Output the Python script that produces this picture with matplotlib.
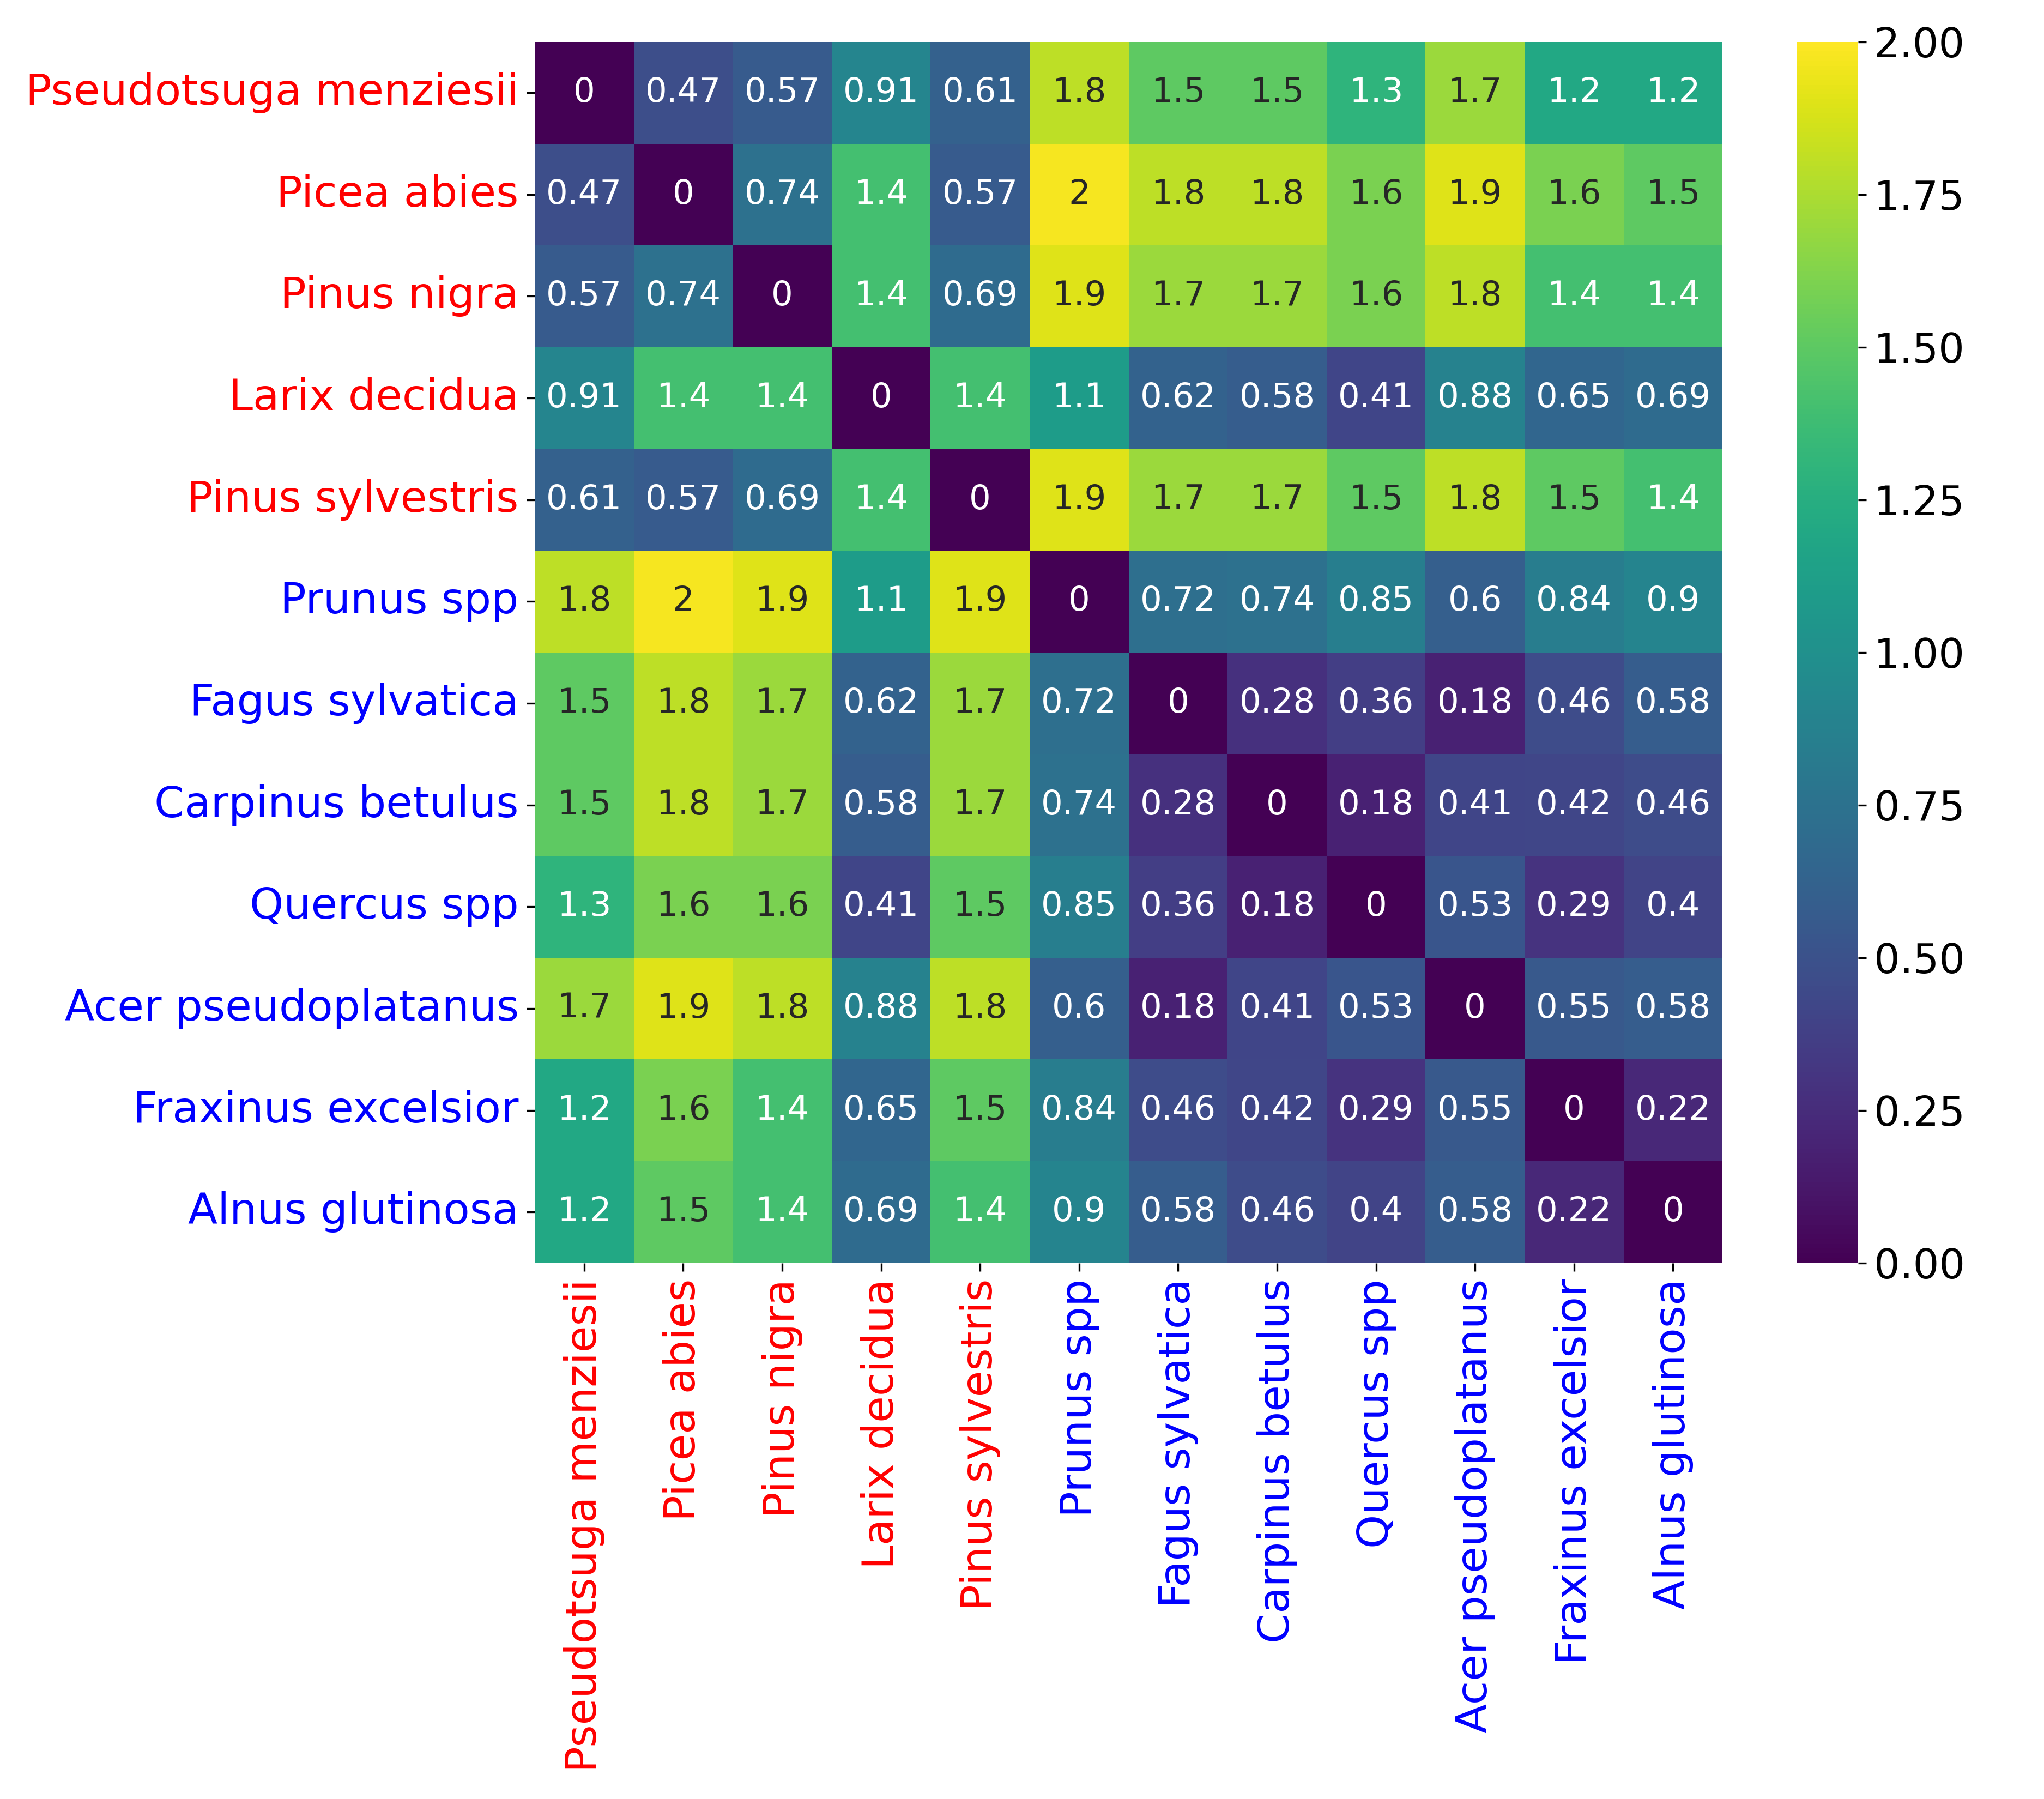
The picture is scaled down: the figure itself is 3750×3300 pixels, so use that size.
import numpy as np
import pandas as pd
import matplotlib
matplotlib.use('Agg')
import matplotlib.pyplot as plt
import seaborn as sns

# species (first 5 conifers, rest broadleaves)
species = ['Pseudotsuga menziesii', 'Picea abies', 'Pinus nigra', 'Larix decidua',
           'Pinus sylvestris', 'Prunus spp', 'Fagus sylvatica', 'Carpinus betulus',
           'Quercus spp', 'Acer pseudoplatanus', 'Fraxinus excelsior', 'Alnus glutinosa']
n_conifers = 5

# distance matrix rows (the "2" cell is a bit under 2 going by its colour)
pseudotsuga = [0, .47, .57, .91, .61, 1.8, 1.5, 1.5, 1.3, 1.7, 1.2, 1.2]
picea = [.47, 0, .74, 1.4, .57, 1.97, 1.8, 1.8, 1.6, 1.9, 1.6, 1.5]
pinus_nigra = [.57, .74, 0, 1.4, .69, 1.9, 1.7, 1.7, 1.6, 1.8, 1.4, 1.4]
larix = [.91, 1.4, 1.4, 0, 1.4, 1.1, .62, .58, .41, .88, .65, .69]
pinus_sylv = [.61, .57, .69, 1.4, 0, 1.9, 1.7, 1.7, 1.5, 1.8, 1.5, 1.4]
prunus = [1.8, 1.97, 1.9, 1.1, 1.9, 0, .72, .74, .85, .6, .84, .9]
fagus = [1.5, 1.8, 1.7, .62, 1.7, .72, 0, .28, .36, .18, .46, .58]
carpinus = [1.5, 1.8, 1.7, .58, 1.7, .74, .28, 0, .18, .41, .42, .46]
quercus = [1.3, 1.6, 1.6, .41, 1.5, .85, .36, .18, 0, .53, .29, .4]
acer = [1.7, 1.9, 1.8, .88, 1.8, .6, .18, .41, .53, 0, .55, .58]
fraxinus = [1.2, 1.6, 1.4, .65, 1.5, .84, .46, .42, .29, .55, 0, .22]
alnus = [1.2, 1.5, 1.4, .69, 1.4, .9, .58, .46, .4, .58, .22, 0]

dist = pd.DataFrame([pseudotsuga, picea, pinus_nigra, larix, pinus_sylv, prunus,
                     fagus, carpinus, quercus, acer, fraxinus, alnus],
                    index=species, columns=species)

fig = plt.figure(figsize=(12.5, 11), dpi=300)
ax = fig.add_axes([0.2616, 0.298, 0.5811, 0.6787])
cax = fig.add_axes([0.879, 0.298, 0.030, 0.6787])

sns.heatmap(dist, annot=True, cmap='viridis', vmin=0, vmax=2, ax=ax, cbar_ax=cax,
            annot_kws={'size': 15})

ax.tick_params(axis='both', labelsize=19)
ax.set_xticklabels(species, rotation=90)
ax.set_yticklabels(species, rotation=0)
for i, lab in enumerate(ax.get_xticklabels()):
    lab.set_color('red' if i < n_conifers else 'blue')
for i, lab in enumerate(ax.get_yticklabels()):
    lab.set_color('red' if i < n_conifers else 'blue')

cax.tick_params(labelsize=18)

fig.savefig('out.png', dpi=300)
